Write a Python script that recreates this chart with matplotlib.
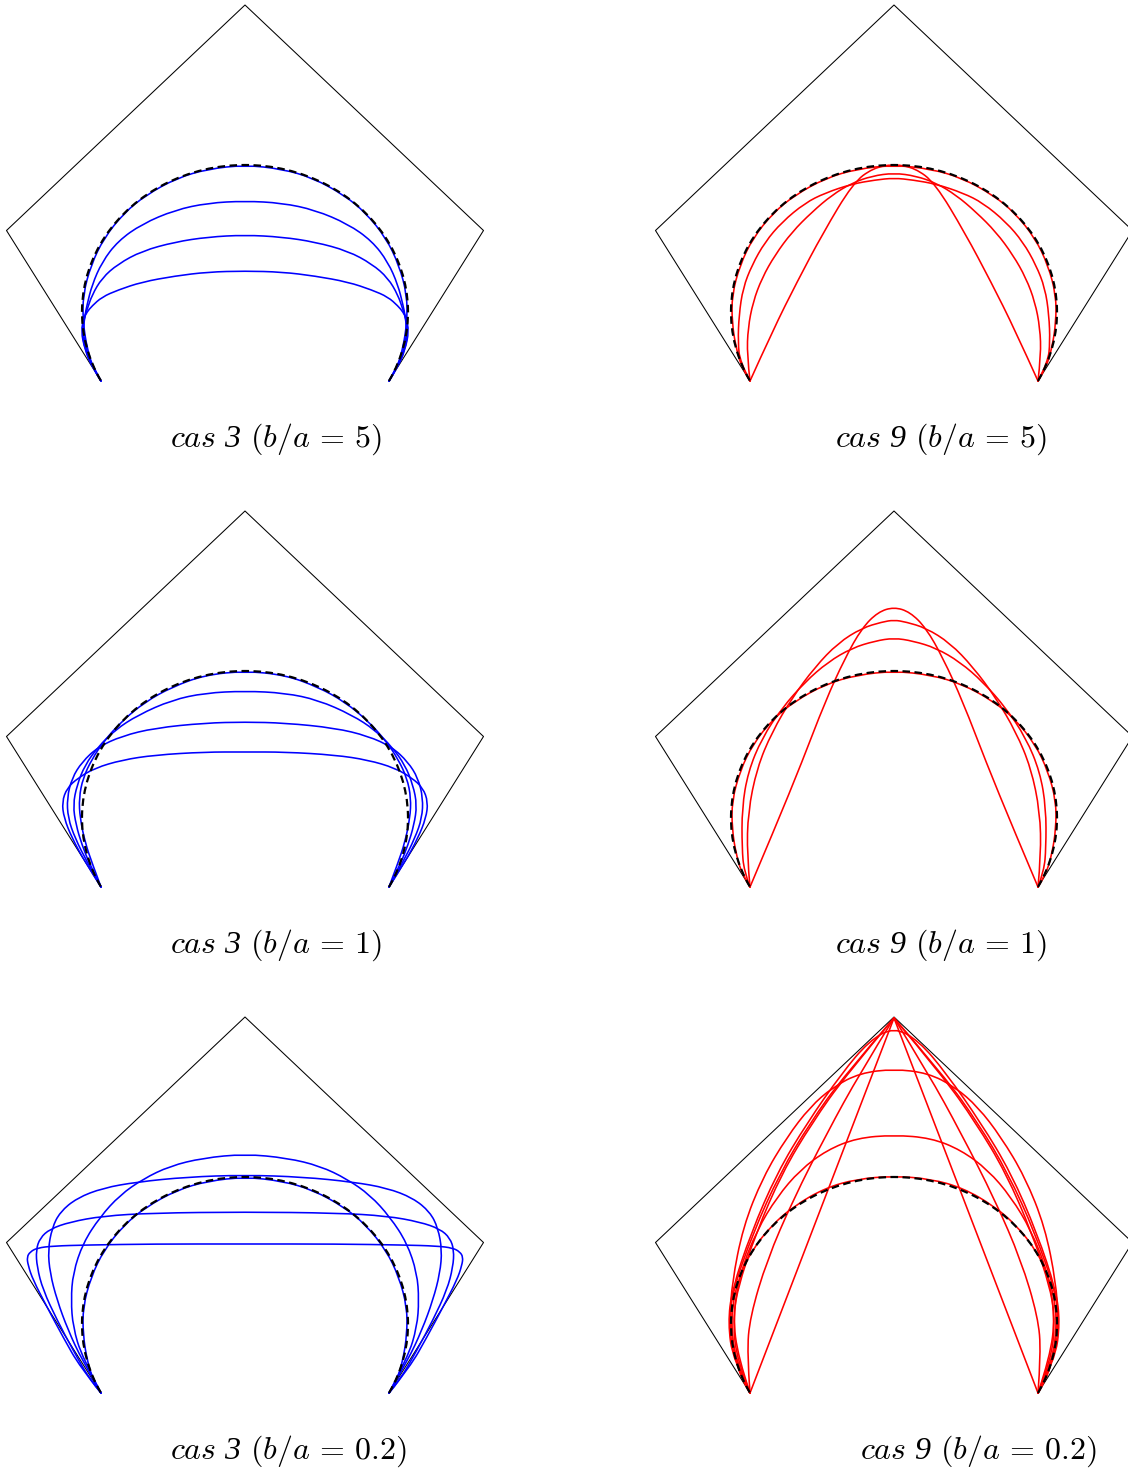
import numpy as np
import matplotlib.pyplot as plt
from matplotlib.path import Path
from matplotlib.patches import PathPatch, Arc

plt.rcParams['mathtext.fontset'] = 'custom'
plt.rcParams['mathtext.rm'] = 'cmr10'
plt.rcParams['mathtext.it'] = 'cmmi10'
plt.rcParams['mathtext.sf'] = 'Liberation Serif:italic'

# panel geometry (same in every panel), x and height in panel units
kite_x = [-144, -238.5, 0, 238.5, 144]
kite_y = [0, 150.5, 376, 150.5, 0]
ell_center = (0, 69)
ell_a = 163
ell_b = 147

# left halves of the curves (bottom corner -> apex), mirrored for the right half
cas3_b5 = [
    [(-144, 0), (-152, 13), (-158, 33), (-162, 59), (-162, 86), (-154, 116), (-141, 143),
     (-121, 168), (-99, 186), (-68, 203), (-37, 212), (0, 216)],
    [(-144, 0), (-152, 14), (-159, 31), (-162, 50), (-160, 66), (-158, 76), (-153, 96),
     (-143, 119), (-127, 140), (-103, 157), (-70, 171), (-37, 178), (0, 180)],
    [(-144, 0), (-152, 14), (-160, 31), (-163, 50), (-160, 66), (-158, 71), (-153, 86),
     (-143, 103), (-127, 117), (-103, 130), (-70, 139), (-37, 144), (0, 146)],
    [(-144, 0), (-153, 14), (-160, 31), (-164, 50), (-161, 63), (-158, 69), (-153, 75),
     (-143, 84), (-127, 91), (-103, 99), (-70, 105), (-37, 109), (0, 110)],
]
cas9_b5 = [
    [(-144, 0), (-152, 13), (-158, 33), (-162, 59), (-162, 86), (-154, 116), (-141, 143),
     (-121, 168), (-99, 186), (-68, 203), (-37, 212), (0, 216)],
    [(-144, 0), (-154, 19), (-156, 39), (-155, 66), (-151, 93), (-142, 116), (-129, 139),
     (-112, 159), (-89, 178), (-69, 188), (-42, 197), (-19, 201), (0, 203)],
    [(-144, 0), (-147, 26), (-146, 53), (-141, 79), (-132, 103), (-119, 126), (-102, 149),
     (-82, 169), (-62, 186), (-42, 198), (-22, 205), (0, 208)],
    [(-144, 0), (-121, 51), (-97, 99), (-71, 148), (-41, 198), (-21, 213), (0, 217)],
]
cas3_b1 = [
    [(-144, 0), (-153, 24), (-160, 45), (-165, 69), (-166, 89), (-162, 109), (-153, 128),
     (-141, 146), (-123, 166), (-100, 185), (-73, 200), (-40, 212), (0, 216)],
    [(-144, 0), (-155, 22), (-163, 42), (-169, 62), (-172, 82), (-168, 102), (-160, 122),
     (-147, 140), (-130, 157), (-107, 172), (-73, 187), (-40, 194), (0, 196)],
    [(-144, 0), (-158, 25), (-170, 49), (-177, 69), (-178, 89), (-173, 109), (-163, 125),
     (-147, 140), (-123, 151), (-90, 159), (-40, 164), (0, 165)],
    [(-144, 0), (-160, 25), (-173, 49), (-181, 69), (-183, 85), (-178, 99), (-167, 109),
     (-150, 119), (-123, 127), (-90, 132), (-40, 135), (0, 135)],
]
cas9_b1 = [
    [(-144, 0), (-152, 13), (-158, 33), (-162, 59), (-162, 86), (-154, 116), (-141, 143),
     (-121, 168), (-99, 186), (-68, 203), (-37, 212), (0, 216)],
    [(-144, 0), (-150, 16), (-152, 39), (-152, 79), (-146, 115), (-132, 149), (-112, 179),
     (-89, 205), (-66, 225), (-42, 239), (-19, 246), (0, 249)],
    [(-144, 0), (-147, 32), (-146, 75), (-137, 119), (-122, 155), (-102, 189), (-79, 220),
     (-56, 244), (-32, 259), (-12, 265), (0, 267)],
    [(-144, 0), (-119, 59), (-92, 125), (-69, 185), (-49, 229), (-32, 259), (-16, 275),
     (0, 280)],
]
cas3_b02 = [
    [(-144, 0), (-152, 13), (-158, 33), (-162, 59), (-162, 86), (-154, 116), (-141, 143),
     (-121, 168), (-99, 186), (-68, 203), (-37, 212), (0, 216)],
    [(-144, 0), (-163, 36), (-172, 66), (-174, 93), (-172, 120), (-162, 150), (-145, 176),
     (-125, 198), (-102, 214), (-75, 227), (-42, 235), (0, 239)],
    [(-144, 0), (-163, 33), (-177, 63), (-188, 93), (-195, 120), (-197, 143), (-193, 165),
     (-185, 181), (-168, 195), (-142, 205), (-108, 211), (-58, 216), (0, 218)],
    [(-144, 0), (-155, 13), (-172, 43), (-188, 73), (-202, 103), (-208, 126), (-209, 143),
     (-205, 155), (-195, 164), (-175, 171), (-142, 177), (-92, 180), (0, 181)],
    [(-144, 0), (-165, 26), (-182, 56), (-198, 86), (-212, 113), (-217, 128), (-218, 136),
     (-215, 141), (-208, 145), (-192, 147), (-158, 148), (-92, 149), (0, 149)],
]
cas9_b02 = [
    [(-144, 0), (0, 375)],
    [(-144, 0), (-147, 40), (-144, 76), (-127, 133), (-101, 193), (-67, 260), (-34, 320), (0, 375)],
    [(-144, 0), (-157, 33), (-161, 70), (-157, 103), (-138, 160), (-112, 220), (-82, 270),
     (-48, 318), (0, 375)],
    [(-144, 0), (-160, 33), (-165, 70), (-161, 103), (-141, 160), (-114, 220), (-84, 270),
     (-51, 316), (0, 375)],
    [(-144, 0), (-161, 33), (-166, 70), (-162, 103), (-143, 160), (-117, 220), (-87, 270),
     (-52, 320), (-25, 352), (0, 366)],
    [(-144, 0), (-159, 33), (-164, 76), (-162, 110), (-151, 166), (-131, 216), (-107, 256),
     (-84, 286), (-61, 306), (-34, 320), (0, 324)],
    [(-144, 0), (-156, 36), (-161, 76), (-154, 120), (-137, 163), (-117, 196), (-94, 223),
     (-67, 243), (-37, 255), (0, 258)],
    [(-144, 0), (-152, 13), (-158, 33), (-162, 59), (-162, 86), (-155, 116), (-142, 143),
     (-122, 168), (-100, 187), (-69, 205), (-37, 214), (0, 217)],
]
# curves that end in the top corner of the kite (sharp apex)
cas9_b02_pointed = [True, True, True, True, False, False, False, False]

captions = [r'$\mathit{cas}\ \mathsf{3}\ (b/a\,=\,5)$', r'$\mathit{cas}\ \mathsf{9}\ (b/a\,=\,5)$',
            r'$\mathit{cas}\ \mathsf{3}\ (b/a\,=\,1)$', r'$\mathit{cas}\ \mathsf{9}\ (b/a\,=\,1)$',
            r'$\mathit{cas}\ \mathsf{3}\ (b/a\,=\,0.2)$', r'$\mathit{cas}\ \mathsf{9}\ (b/a\,=\,0.2)$']

panels = [cas3_b5, cas9_b5, cas3_b1, cas9_b1, cas3_b02, cas9_b02]
colors = ['#0000ff', '#ff0000'] * 3
caption_x = [-75, -59, -75, -59, -75, -34]


def smooth(pts):
    # quadratic B-spline with the read points as control points
    p = np.asarray(pts, float)
    if len(p) == 2:
        return Path(p, [Path.MOVETO, Path.LINETO])
    verts = [p[0]]
    codes = [Path.MOVETO]
    for i in range(1, len(p) - 1):
        end = p[i + 1] if i == len(p) - 2 else (p[i] + p[i + 1]) / 2
        verts += [p[i], end]
        codes += [Path.CURVE3, Path.CURVE3]
    return Path(verts, codes)


def mirror(pts):
    return [(-x, y) for x, y in reversed(pts)]


W, H = 1128, 1468
fig = plt.figure(figsize=(W / 100, H / 100), dpi=100)
fig.patch.set_facecolor('white')

origins = [(245, 381), (894, 381), (245, 887), (894, 887), (245, 1393), (894, 1393)]

for k, curves in enumerate(panels):
    r, c = divmod(k, 2)
    x0, x1 = c * W / 2, (c + 1) * W / 2
    y0, y1 = r * H / 3, (r + 1) * H / 3
    ox, oy = origins[k]
    ax = fig.add_axes([x0 / W, 1 - y1 / H, (x1 - x0) / W, (y1 - y0) / H])
    ax.set_xlim(x0 - ox, x1 - ox)
    ax.set_ylim(oy - y1, oy - y0)
    ax.axis('off')

    ax.plot(kite_x, kite_y, color='black', lw=0.75, zorder=1)

    for j, half in enumerate(curves):
        pointed = k == 5 and cas9_b02_pointed[j]
        if pointed:
            paths = [smooth(half), smooth(mirror(half))]
        else:
            paths = [smooth(half + mirror(half)[1:])]
        for pth in paths:
            ax.add_patch(PathPatch(pth, fill=False, edgecolor=colors[k], lw=1.15,
                                   capstyle='round', joinstyle='round', zorder=2))

    cx, cy = ell_center
    t1 = np.degrees(np.arctan2(0 - cy, 144))
    t2 = 180 - t1
    ax.add_patch(Arc(ell_center, 2 * ell_a, 2 * ell_b, theta1=t1, theta2=t2,
                     color='black', lw=1.6, linestyle=(0, (3.4, 2.0)), zorder=3))

    ax.text(caption_x[k], -66, captions[k], fontsize=23, ha='left', va='baseline')

fig.savefig('out.png', dpi=100, facecolor='white')
